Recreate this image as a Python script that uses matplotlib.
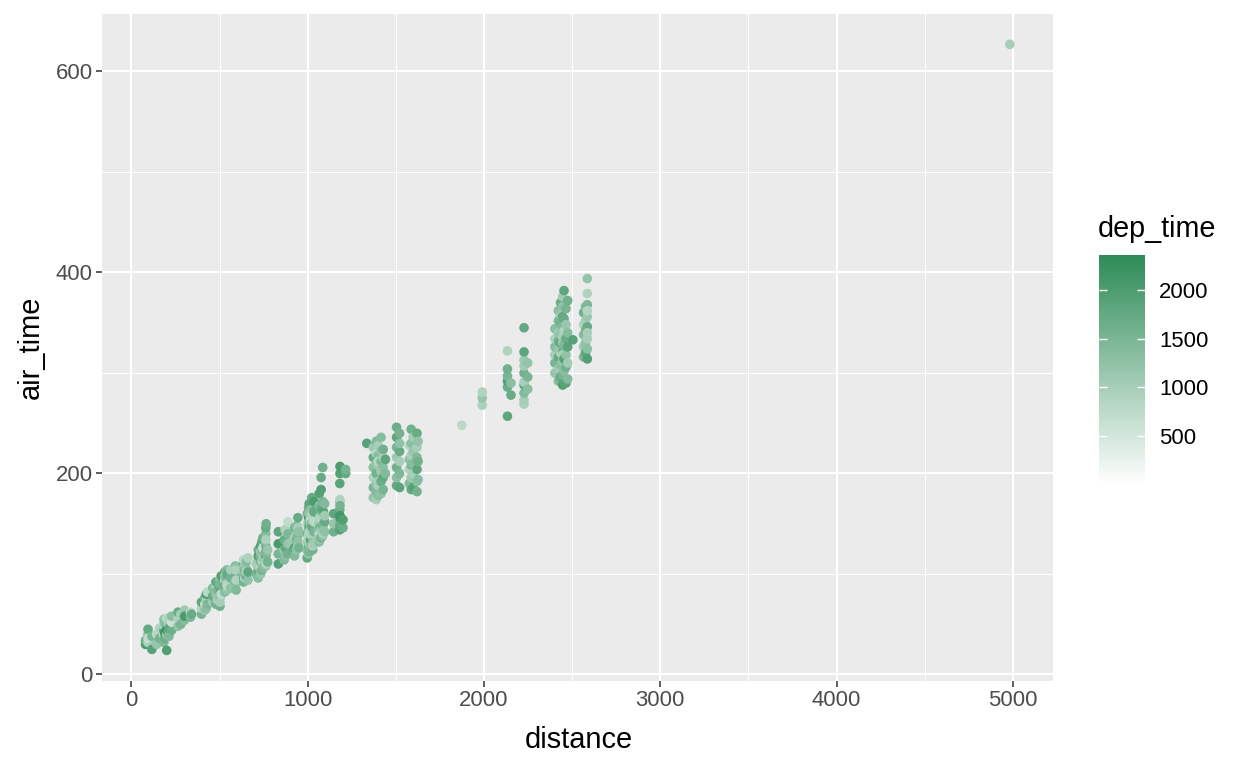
import numpy as np
import matplotlib
matplotlib.use("Agg")
import matplotlib.pyplot as plt
from matplotlib.colors import LinearSegmentedColormap, Normalize

# flights: one entry per route distance (miles), air times (min) and dep times
route_miles = [80, 94, 116, 143, 160, 184, 187, 200, 209, 213, 228, 264, 280, 301, 335, 341,
               397, 416, 425, 431, 461, 479, 488, 502, 509, 529, 541, 544, 563,
               589, 594, 636, 641, 651, 661, 708, 719, 733, 740, 746, 762, 764, 773,
               833, 866, 872, 888, 913, 925, 937, 944, 950,
               997, 1005, 1008, 1017, 1023, 1028, 1035, 1065, 1068, 1076, 1085, 1089, 1096,
               1147, 1182, 1183, 1200, 1215,
               1335, 1372, 1389, 1400, 1416, 1428, 1441,
               1504, 1521, 1576, 1587, 1598, 1620, 1626,
               1874, 1990, 2133, 2153, 2227, 2248,
               2402, 2422, 2434, 2446, 2454, 2465, 2475, 2504,
               2565, 2576, 2586, 4983]

route_air = [
    [30, 34], [32, 40, 45, 36], [28, 38, 25], [30, 40], [36, 46],
    [38, 44, 50, 32, 55, 40], [36, 46, 42, 52], [24, 40, 48, 56, 44], [42, 50],
    [38, 46, 55], [44, 52, 58], [48, 56, 62], [50, 60], [54, 64, 58], [57, 62], [60],
    [60, 66, 72], [64, 70, 76], [66, 74, 80], [70, 82], [72, 78, 86], [70, 80, 88, 92],
    [74, 84], [76, 86, 94, 68, 72, 90], [80, 90, 98], [82, 94, 102, 88, 98], [84, 96, 104, 90],
    [88, 100], [86, 96, 104],
    [88, 98, 108, 92, 104], [84, 94], [92, 100, 110, 114, 96, 106], [96, 104],
    [98, 106, 112, 102], [94, 102, 116],
    [100, 110], [96, 104, 114, 124, 108, 118], [100, 108, 118, 128, 112, 122],
    [104, 112, 122, 132], [106, 116, 126, 136], [108, 118, 128, 140, 146, 112, 122, 134],
    [110, 120, 150], [112, 124],
    [110, 120, 130, 142], [114, 124, 134], [118, 126, 144], [120, 130, 140, 152],
    [122, 132], [118, 126, 136, 146], [124, 134, 148], [128, 138, 156, 132, 146], [126, 142],
    [116, 124, 132, 140, 150, 160], [120, 128, 138, 146, 156, 166],
    [122, 130, 142, 152, 170, 136, 148, 160],
    [126, 134, 144, 154, 164, 140, 150], [128, 138, 148, 160, 176], [124, 132, 140, 150, 128, 146],
    [130, 142, 152, 162, 172], [132, 140, 150, 158, 168, 180, 136, 146], [134, 146, 156, 166],
    [136, 144, 154, 164, 184, 196], [138, 148, 160, 172, 206], [140, 150, 162, 144, 156],
    [142, 152, 158, 170],
    [142, 150, 160], [144, 150, 156, 164, 172, 174, 190], [148, 158, 168, 200, 207],
    [146, 154], [200, 204],
    [230], [176, 186, 196, 206, 216, 226], [174, 182, 190, 200, 210, 220, 232],
    [178, 188, 198, 208, 218, 228, 192, 212], [180, 192, 202, 212, 222, 236],
    [184, 196, 206, 216, 224], [214, 200],
    [188, 196, 206, 216, 226, 236, 246], [186, 200, 212, 222, 230, 240], [190, 204, 214, 228],
    [184, 196, 208, 218, 230, 244], [186, 200, 210, 222, 236], [182, 192, 204, 216, 226, 240],
    [194, 212, 232],
    [248], [268, 275, 281], [257, 286, 292, 297, 304, 322], [278, 290],
    [269, 273, 280, 288, 291, 300, 307, 313, 321, 345], [284, 296, 310],
    [300, 310, 318, 326, 334, 344], [292, 304, 316, 324, 332, 340, 352, 362],
    [296, 308, 320, 330, 338, 350, 358, 370],
    [288, 298, 312, 322, 336, 346, 356, 366, 376, 318, 330],
    [302, 314, 328, 342, 354, 382], [290, 306, 318, 334, 348, 364], [294, 310, 326, 340, 372],
    [333],
    [316, 326, 338, 348, 360], [320, 330, 342, 352, 366],
    [314, 324, 334, 346, 356, 368, 379, 394, 340, 362],
    [627],
]

route_dep = [
    [2000, 1600], [900, 1300, 1750, 700], [1000, 1500, 1900], [1200, 800], [1550, 900],
    [1000, 1800, 700, 1400, 1200, 600], [1650, 950, 2100, 1300], [1950, 1100, 1500, 800, 2200],
    [1700, 1000], [1400, 1800, 900], [1600, 600, 1300], [1250, 900, 1700], [1500, 1000],
    [1350, 1100, 2000], [1450, 800], [1700],
    [1500, 900, 1800], [1200, 700, 1600], [1300, 1000, 2000], [1450, 800], [1100, 1700, 1400],
    [1550, 1200, 900, 1750], [1000, 1450], [1300, 1800, 1150, 1600, 1000, 1450], [700, 1500, 1900],
    [1350, 1000, 1650, 1700, 1200], [1200, 1500, 1400, 900], [800, 1750], [1250, 1550, 1000],
    [1100, 1600, 1300, 1350, 950], [1400, 900], [1500, 1200, 1700, 800, 1800, 1050], [1000, 1450],
    [1650, 1100, 1350, 900], [1250, 1800, 900],
    [1500, 1000], [1350, 1700, 1150, 1600, 1000, 1900], [1200, 800, 1450, 1900, 1600, 1050],
    [1550, 1000, 1300, 1750], [1400, 1100, 600, 1650],
    [1250, 1800, 1500, 1350, 1700, 1050, 1650, 950],
    [900, 1450, 1600], [1550, 1150],
    [1900, 1500, 2050, 1800], [1400, 1000, 1650], [1300, 1750, 900], [1550, 1200, 1450, 700],
    [1650, 1100], [1400, 1850, 1000, 1500], [1200, 1600, 1350], [900, 1450, 1700, 1250, 1000],
    [1550, 1250],
    [1750, 1300, 1000, 1550, 850, 1450], [1200, 1650, 800, 1400, 1950, 1600],
    [1500, 1100, 900, 1350, 1800, 950, 1650, 1200],
    [1250, 1900, 1000, 750, 1300, 850, 1150], [1450, 850, 1800, 900, 1700],
    [1600, 1350, 950, 1200, 900, 1750],
    [1050, 1500, 800, 1750, 2000], [1400, 700, 1100, 1550, 1300, 1900, 1000, 800],
    [1200, 1600, 900, 1450], [1550, 1000, 850, 1750, 1950, 1700], [1300, 1650, 1200, 1500, 1600],
    [950, 1450, 1850, 1250, 900], [1250, 1700, 1050, 1400],
    [1600, 1200, 1800], [1900, 1450, 2000, 1700, 1300, 900, 1850], [1750, 2100, 1550, 1900, 2000],
    [1650, 1950], [1750, 1550],
    [1900], [1200, 1500, 900, 1300, 1700, 1100], [1000, 1400, 1150, 1600, 1250, 800, 1450],
    [1300, 950, 1550, 1100, 1350, 1000, 1000, 800], [1250, 1650, 1050, 1450, 1200, 1350],
    [1500, 1750, 1300, 1000, 1600], [1800, 1400],
    [1750, 1300, 1600, 1100, 1500, 1800, 1650], [1850, 1450, 1000, 1700, 1250, 1550],
    [1400, 900, 1250, 800], [1700, 1100, 1450, 950, 1300, 1600], [1900, 1000, 1350, 1150, 1050],
    [1550, 1250, 1800, 1400, 1000, 1700], [1350, 1600, 1200],
    [800], [950, 1150, 900], [1800, 1650, 1900, 1500, 1600, 900], [1700, 1300],
    [950, 1000, 1400, 1750, 1000, 1600, 1050, 1100, 1800, 1750], [1300, 1500, 1200],
    [1200, 1500, 1000, 1350, 900, 1300], [1400, 1050, 1750, 1200, 1600, 1100, 1450, 1300],
    [1700, 1300, 950, 1800, 1250, 1550, 1100, 1650],
    [1950, 1500, 1150, 1600, 1000, 1400, 1750, 1250, 1050, 950, 1100],
    [1300, 1900, 1450, 900, 1700, 1800], [1850, 1600, 1250, 1700, 1150, 1500],
    [1400, 1050, 1850, 1350, 1600], [1900],
    [1500, 1100, 1350, 900, 1600], [1800, 1250, 1550, 1000, 1400],
    [1950, 1300, 1000, 1700, 1150, 1450, 900, 1200, 1000, 850],
    [1000],
]

dep_ticks = [500, 1000, 1500, 2000]
dep_min, dep_max = 1, 2355

distance, air_time, dep_time = [], [], []
for miles, airs, deps in zip(route_miles, route_air, route_dep):
    for a, t in zip(airs, deps):
        distance.append(miles)
        air_time.append(a)
        dep_time.append(t)

plt.rcParams['font.family'] = ['Liberation Sans', 'DejaVu Sans']

fig = plt.figure(figsize=(12.48, 7.68), dpi=100)
ax = fig.add_axes([0.082, 0.1137, 0.7618, 0.868])
ax.set_facecolor('#EBEBEB')
for s in ax.spines.values():
    s.set_visible(False)

# ggplot style 5% expansion
xr = max(distance) - min(distance)
yr = max(air_time) - min(air_time)
ax.set_xlim(min(distance) - 0.05 * xr, max(distance) + 0.05 * xr)
ax.set_ylim(min(air_time) - 0.05 * yr, max(air_time) + 0.05 * yr)
ax.set_xticks([0, 1000, 2000, 3000, 4000, 5000])
ax.set_xticks([500, 1500, 2500, 3500, 4500], minor=True)
ax.set_yticks([0, 200, 400, 600])
ax.set_yticks([100, 300, 500], minor=True)
ax.grid(which='major', color='white', linewidth=1.5)
ax.grid(which='minor', color='white', linewidth=0.75)
ax.set_axisbelow(True)
ax.tick_params(which='major', length=4, width=1.1, color='#333333',
               labelcolor='#4D4D4D', labelsize=15.9, pad=3)
ax.tick_params(which='minor', length=0)

cmap = LinearSegmentedColormap.from_list('dep', ['white', '#2E8B57'])
norm = Normalize(vmin=dep_min, vmax=dep_max)
sc = ax.scatter(distance, air_time, c=dep_time, cmap=cmap, norm=norm,
                s=48, linewidths=0, zorder=3)

fig.text(0.4635, 20 / 768, 'distance', fontsize=20.9, ha='center', va='baseline')
fig.text(0.025, 0.548, 'air_time', fontsize=20.9, ha='center', va='center', rotation=90)

cax = fig.add_axes([0.8806, 0.3685, 0.0369, 0.2995])
cb = fig.colorbar(sc, cax=cax)
cb.outline.set_visible(False)
cb.set_ticks(dep_ticks)
cax.tick_params(direction='in', length=5.5, width=1, color='white', left=True, right=True,
                labelleft=False, labelright=True, labelsize=15.9, labelcolor='black', pad=10)
fig.text(0.880, 1 - 237 / 768, 'dep_time', fontsize=20.7, ha='left', va='baseline')

fig.savefig('out.png', dpi=100)
